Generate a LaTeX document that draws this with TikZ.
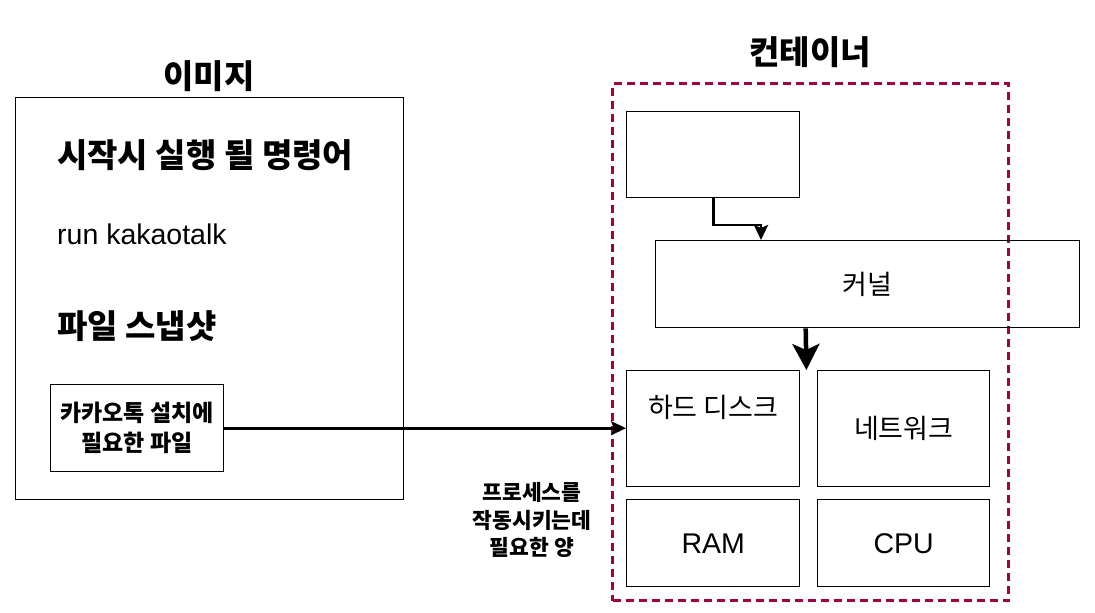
\documentclass[tikz,border=0pt]{standalone}
\usepackage{fontspec}
\setmainfont{Liberation Sans}
\newfontfamily\kr{Noto Sans CJK KR}
\usepackage{tikz}
\usetikzlibrary{arrows.meta}
\definecolor{cntred}{HTML}{A50040}
\def\titlefont{\kr\bfseries\fontsize{33}{38}\selectfont}
\def\labelfont{\kr\fontsize{27}{32}\selectfont}
\def\latinfont{\fontsize{28.5}{32}\selectfont}
\def\smallfont{\kr\bfseries\fontsize{23}{30}\selectfont}
\def\notefont{\kr\bfseries\fontsize{21.5}{27.5}\selectfont}
\tikzset{
  box/.style={draw, line width=1.4pt, anchor=north west, inner sep=0pt},
  link/.style={line width=2.8pt, -{Stealth[length=15pt,width=14pt,inset=3pt]}}
}

\begin{document}
\begin{tikzpicture}[x=1pt, y=-1pt]
		\useasboundingbox (0,0) rectangle (1095,613);
		% image side
		\node (imgtitle) at (209,76) {\titlefont 이미지};
		\node[box, minimum width=388pt, minimum height=402pt] (img) at (15,97) {};
		\node[anchor=west, inner sep=0pt] (cmdtitle) at (57,155) {\titlefont 시작시 실행 될 명령어};
		\node[anchor=west, inner sep=0pt] (cmd) at (57,234) {\latinfont run kakaotalk};
		\node[anchor=west, inner sep=0pt] (snaptitle) at (57,326) {\titlefont 파일 스냅샷};
		\node[box, minimum width=173pt, minimum height=87pt, align=center, font=\smallfont] (files) at (50,384)
			{카카오톡 설치에\\ 필요한 파일};
		% container side
		\node (cnttitle) at (810,52) {\titlefont 컨테이너};
		\node[box, draw=cntred, line width=3pt, dash pattern=on 8pt off 5pt,
			minimum width=396pt, minimum height=517pt] (cnt) at (611,82) {};
		\node[box, minimum width=173pt, minimum height=86pt] (proc) at (626,111) {};
		\node[box, minimum width=424pt, minimum height=87pt] (kernel) at (655,240) {\labelfont 커널};
		\node[box, minimum width=173pt, minimum height=116pt,
			label={[yshift=-53pt]north:\labelfont 하드 디스크}] (hdd) at (626,370) {};
		\node[box, minimum width=172pt, minimum height=116pt] (net) at (817,370) {\labelfont 네트워크};
		\node[box, minimum width=173pt, minimum height=87pt] (ram) at (626,499) {\latinfont RAM};
		\node[box, minimum width=172pt, minimum height=87pt] (cpu) at (817,499) {\latinfont CPU};
		\node[align=center, font=\notefont] (amount) at (532,520)
			{프로세스를\\ 작동시키는데\\ 필요한 양};
		% connectors
		\coordinate (kin) at ([xshift=106pt]kernel.north west);
		\draw[link] (proc.south) |- ([yshift=15pt]kin) -- (kin);
		\draw[line width=4.5pt, -{Stealth[length=26pt,width=27pt,inset=6pt]}]
			([xshift=-62pt]kernel.south) -- ([xshift=6pt]hdd.north east);
		\draw[link] (files.east) -- (files.east -| hdd.west);
\end{tikzpicture}
\end{document}
